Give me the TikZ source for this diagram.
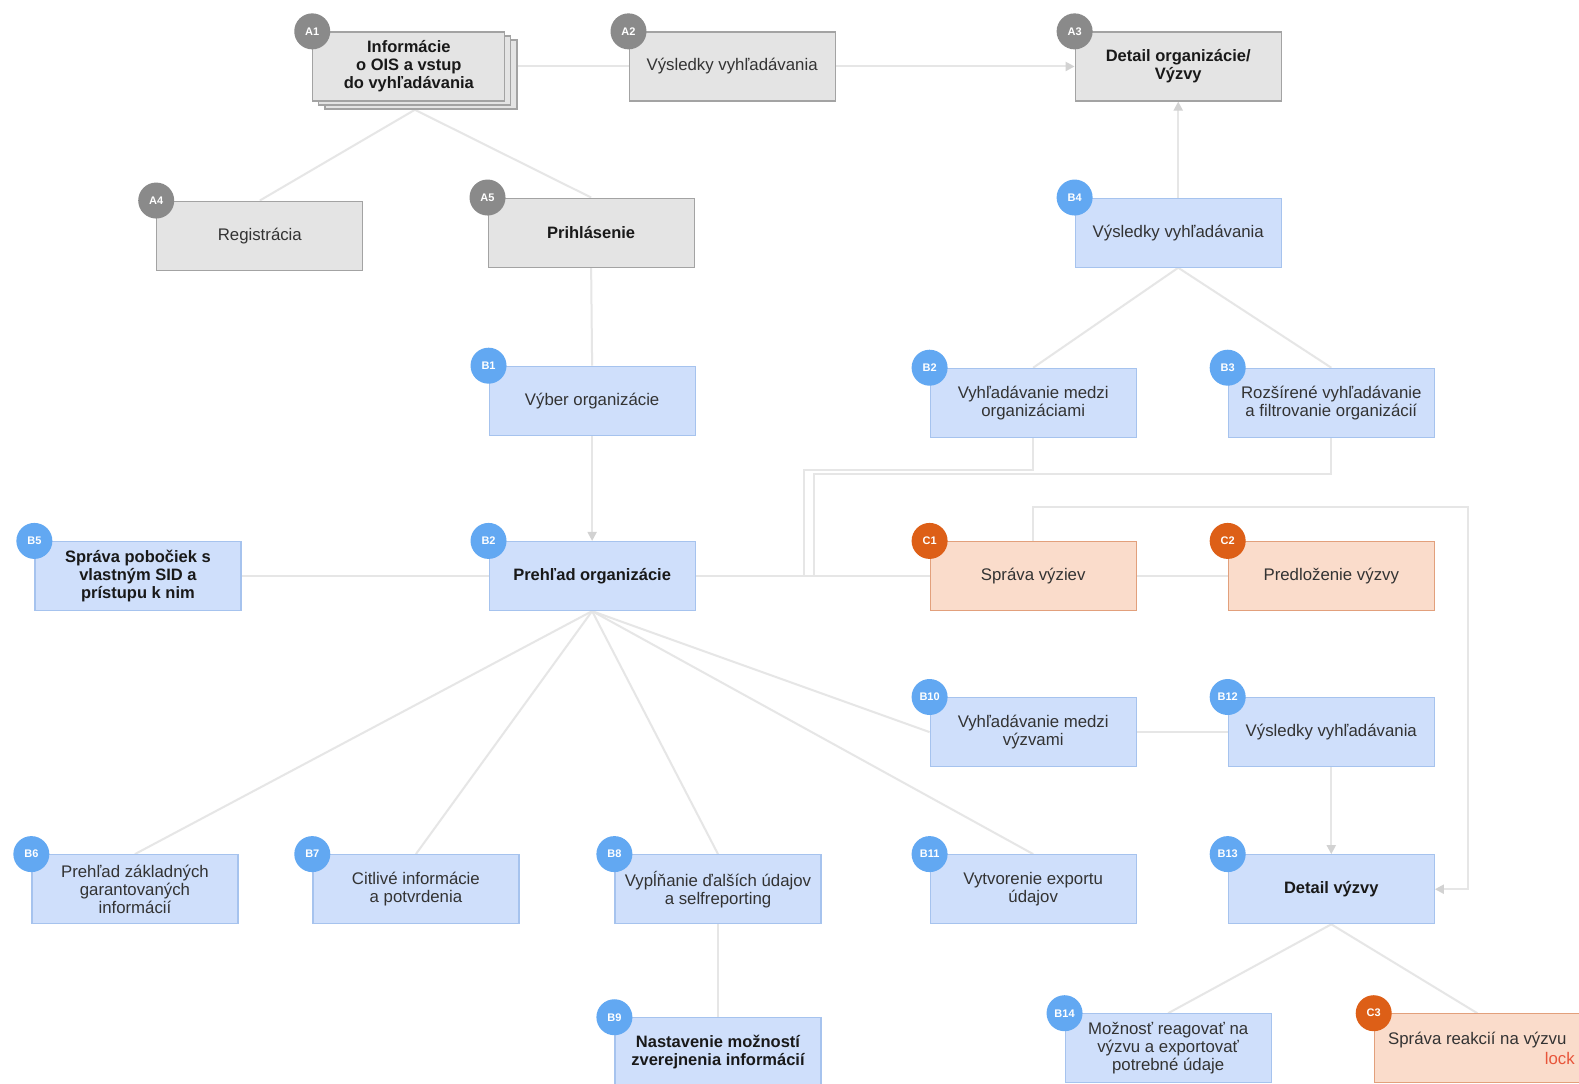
\documentclass[tikz,border=0pt]{standalone}
\usepackage{fontspec}
\setmainfont{Liberation Sans}
\usetikzlibrary{arrows.meta,backgrounds}
\definecolor{gfill}{HTML}{E4E4E4}
\definecolor{gdraw}{HTML}{A3A3A3}
\definecolor{gcircc}{HTML}{8A8A8A}
\definecolor{bfill}{HTML}{CFDFFB}
\definecolor{bdraw}{HTML}{A6C3EE}
\definecolor{bcircc}{HTML}{62A8F2}
\definecolor{ofill}{HTML}{FADCCB}
\definecolor{odraw}{HTML}{E2A07C}
\definecolor{ocircc}{HTML}{DD5F17}
\definecolor{linkc}{HTML}{E6E6E6}
\definecolor{arrc}{HTML}{D2D2D2}
\definecolor{lockc}{HTML}{E8553A}
\tikzset{
  box/.style={draw, line width=1.2pt, minimum width=206pt, minimum height=69pt, align=center,
    inner sep=2pt, font=\fontsize{16.8}{18}\selectfont, text=black!80},
  bf/.style={font=\fontsize{16.5}{18}\selectfont\bfseries, text=black!90},
  gbox/.style={box, fill=gfill, draw=gdraw},
  bbox/.style={box, fill=bfill, draw=bdraw},
  obox/.style={box, fill=ofill, draw=odraw},
  badge/.style={circle, minimum size=36pt, inner sep=0pt, text=white, font=\fontsize{11}{11}\selectfont\bfseries},
  gbadge/.style={badge, fill=gcircc},
  bbadge/.style={badge, fill=bcircc},
  obadge/.style={badge, fill=ocircc},
  link/.style={draw=linkc, line width=2pt},
  arr/.style={link, -{Triangle[length=9pt,width=9pt,color=arrc]}},
}
\begin{document}
\begin{tikzpicture}[x=1.007pt,y=-1.007pt]
\useasboundingbox (0,0) rectangle (1568,1076);
\clip (0,0) rectangle (1568,1076);

% --- A row ---
\node[gbox, minimum width=192pt] (A1c) at (418,74) {};
\node[gbox, minimum width=192pt] (A1b) at (412,70) {};
\node[gbox, bf, minimum width=192pt] (A1) at (406,66) {Informácie\\o OIS a vstup\\do vyhľadávania};
\node[gbadge] (A1n) at (A1.north west) {A1};
\node[gbox] (A2) at (727,66) {Výsledky vyhľadávania};
\node[gbadge] (A2n) at (A2.north west) {A2};
\node[gbox, bf] (A3) at (1170,66) {Detail organizácie/\\Výzvy};
\node[gbadge] (A3n) at (A3.north west) {A3};
\node[gbox] (A4) at (258,234) {Registrácia};
\node[gbadge] (A4n) at (A4.north west) {A4};
\node[gbox, bf] (A5) at (587,231) {Prihlásenie};
\node[gbadge] (A5n) at (A5.north west) {A5};

% --- B nodes ---
\node[bbox] (B4) at (1170,231) {Výsledky vyhľadávania};
\node[bbadge] (B4n) at (B4.north west) {B4};
\node[bbox] (B1) at (588,398) {Výber organizácie};
\node[bbadge] (B1n) at (B1.north west) {B1};
\node[bbox] (B2a) at (1026,400) {Vyhľadávanie medzi\\organizáciami};
\node[bbadge] (B2an) at (B2a.north west) {B2};
\node[bbox] (B3) at (1322,400) {Rozšírené vyhľadávanie\\a filtrovanie organizácií};
\node[bbadge] (B3n) at (B3.north west) {B3};
\node[bbox, bf] (B5) at (137,572) {Správa pobočiek s\\vlastným SID a\\prístupu k nim};
\node[bbadge] (B5n) at (B5.north west) {B5};
\node[bbox, bf] (B2) at (588,572) {Prehľad organizácie};
\node[bbadge] (B2n) at (B2.north west) {B2};
\node[obox] (C1) at (1026,572) {Správa výziev};
\node[obadge] (C1n) at (C1.north west) {C1};
\node[obox] (C2) at (1322,572) {Predloženie výzvy};
\node[obadge] (C2n) at (C2.north west) {C2};
\node[bbox] (B10) at (1026,727) {Vyhľadávanie medzi\\výzvami};
\node[bbadge] (B10n) at (B10.north west) {B10};
\node[bbox] (B12) at (1322,727) {Výsledky vyhľadávania};
\node[bbadge] (B12n) at (B12.north west) {B12};
\node[bbox] (B6) at (134,883) {Prehľad základných\\garantovaných\\informácií};
\node[bbadge] (B6n) at (B6.north west) {B6};
\node[bbox] (B7) at (413,883) {Citlivé informácie\\a potvrdenia};
\node[bbadge] (B7n) at (B7.north west) {B7};
\node[bbox] (B8) at (713,883) {Vypĺňanie ďalších údajov\\a selfreporting};
\node[bbadge] (B8n) at (B8.north west) {B8};
\node[bbox] (B11) at (1026,883) {Vytvorenie exportu\\údajov};
\node[bbadge] (B11n) at (B11.north west) {B11};
\node[bbox, bf] (B13) at (1322,883) {Detail výzvy};
\node[bbadge] (B13n) at (B13.north west) {B13};
\node[bbox, bf] (B9) at (713,1045) {Nastavenie možností\\zverejnenia informácií};
\node[bbadge] (B9n) at (B9.north west) {B9};
\node[bbox] (B14) at (1160,1041) {Možnosť reagovať na\\výzvu a exportovať\\potrebné údaje};
\node[bbadge] (B14n) at (B14.north west) {B14};
\node[obox] (C3) at (1467,1041) {Správa reakcií na výzvu\\[2pt]\hspace*{165pt}\textcolor{lockc}{lock}};
\node[obadge] (C3n) at (C3.north west) {C3};

% --- connectors ---
\begin{scope}[on background layer]
\fill[white] (0,0) rectangle (1568,1076);
\coordinate (A1s) at (412,109);
\draw[link] (A1b.east |- A1.east) -- (A2.west);
\draw[arr] (A2.east) -- (A3.west);
\draw[link] (A1s) -- (A4.north);
\draw[link] (A1s) -- (A5.north);
\draw[link] (A5.south) -- (B1.north);
\draw[arr] (B1.south) -- (B2.north);
\draw[arr] (B4.north) -- (A3.south);
\draw[link] (B4.south) -- (B2a.north);
\draw[link] (B4.south) -- (B3.north);
\coordinate (J1) at (798,572);
\coordinate (J2) at (808,572);
\draw[link] (B2a.south) |- (798,467) -- (J1);
\draw[link] (B3.south) |- (808,471) -- (J2);
\draw[link] (B5.east) -- (B2.west);
\draw[link] (B2.east) -- (C1.west);
\draw[link] (C1.east) -- (C2.west);
\coordinate (R1) at (1458,503);
\draw[arr] (C1.north) |- (R1) |- (B13.east);
\draw[link] (B10.east) -- (B12.west);
\draw[arr] (B12.south) -- (B13.north);
\draw[link] (B2.south) -- (B6.north);
\draw[link] (B2.south) -- (B7.north);
\draw[link] (B2.south) -- (B8.north);
\draw[link] (B2.south) -- (B11.north);
\draw[link] (B2.south) -- (B10.west);
\draw[link] (B8.south) -- (B9.north);
\draw[link] (B13.south) -- (B14.north);
\draw[link] (B13.south) -- (C3.north);
\end{scope}
\end{tikzpicture}
\end{document}
